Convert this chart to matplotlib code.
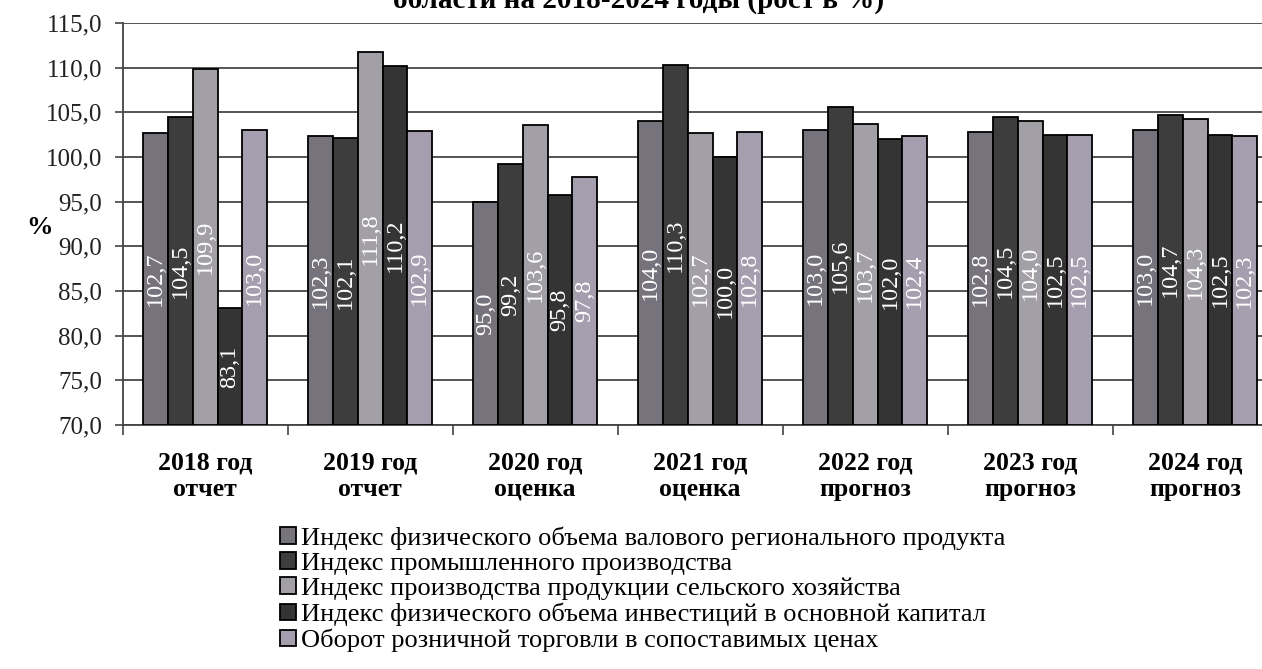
import matplotlib
matplotlib.use("Agg")
import matplotlib.pyplot as plt
import numpy as np

plt.rcParams['font.family'] = ['Liberation Serif', 'DejaVu Serif']

# categories (years) and their status
years = ['2018 год', '2019 год', '2020 год', '2021 год', '2022 год', '2023 год', '2024 год']
status = ['отчет', 'отчет', 'оценка', 'оценка', 'прогноз', 'прогноз', 'прогноз']

series_names = [
    'Индекс физического объема валового регионального продукта',
    'Индекс промышленного производства',
    'Индекс производства продукции сельского хозяйства',
    'Индекс физического объема инвестиций в основной капитал',
    'Оборот розничной торговли в сопоставимых ценах',
]

grp = [102.7, 102.3, 95.0, 104.0, 103.0, 102.8, 103.0]
industry = [104.5, 102.1, 99.2, 110.3, 105.6, 104.5, 104.7]
agro = [109.9, 111.8, 103.6, 102.7, 103.7, 104.0, 104.3]
invest = [83.1, 110.2, 95.8, 100.0, 102.0, 102.5, 102.5]
retail = [103.0, 102.9, 97.8, 102.8, 102.4, 102.5, 102.3]

series = [grp, industry, agro, invest, retail]
colors = ['#77737c', '#3d3d3d', '#a29fa6', '#343434', '#a49eae']

ymin, ymax = 70, 115

fig = plt.figure(figsize=(12.62, 6.69), dpi=100)
ax = fig.add_axes([122.7 / 1262, 244 / 669, 1155 / 1262, 402 / 669])

x = np.arange(len(years))
w = 0.15
for i, (vals, c) in enumerate(zip(series, colors)):
    pos = x + (i - 2) * w
    ax.bar(pos, np.array(vals) - ymin, bottom=ymin, width=w, color=c,
           edgecolor='black', linewidth=1.3, zorder=3, label=series_names[i])
    for px, v in zip(pos, vals):
        ax.text(px, (ymin + v) / 2, f'{v:.1f}'.replace('.', ','), rotation=90,
                ha='center', va='center', color='white', fontsize=17.5, zorder=4)

ax.set_ylim(ymin, ymax)
ax.set_xlim(-0.5, len(years) - 0.5)
yt = np.arange(70, 116, 5)
ax.set_yticks(yt)
ax.set_yticklabels([f'{t:.1f}'.replace('.', ',') for t in yt], fontsize=18, color='#222222')
ax.yaxis.grid(True, color='#555555', linewidth=1.4, zorder=0)
ax.set_axisbelow(True)

ax.set_xticks(np.arange(-0.5, len(years), 1.0))
ax.set_xticklabels([])
ax.set_xticks(x, minor=True)
ax.set_xticklabels([f'{y}\n{s}' for y, s in zip(years, status)], minor=True,
                   fontsize=18.5, fontweight='bold', linespacing=1.18)
ax.tick_params(axis='x', which='major', length=7, width=1.2, direction='out', color='#444444')
ax.tick_params(axis='x', which='minor', length=0, pad=19)
ax.tick_params(axis='y', length=6, width=1.2, direction='out', pad=9, color='#444444')

for side in ['top', 'right']:
    ax.spines[side].set_visible(False)
for side in ['left', 'bottom']:
    ax.spines[side].set_color('#444444')
    ax.spines[side].set_linewidth(1.3)

fig.text(0.031, 1 - 228 / 669, '%', fontsize=19, fontweight='bold', ha='center', va='center')
fig.text(639 / 1262, 1 - 8 / 669, 'области на 2018-2024 годы (рост в %)', fontsize=21,
         fontweight='bold', ha='center', va='baseline')

fig.legend(loc='upper left', bbox_to_anchor=(280 / 1262, 1 - 526 / 669), frameon=False,
           fontsize=19, handlelength=0.6, handleheight=0.6, handletextpad=0.2,
           labelspacing=0.1, borderpad=0, borderaxespad=0)

fig.savefig('out.png', dpi=100)
